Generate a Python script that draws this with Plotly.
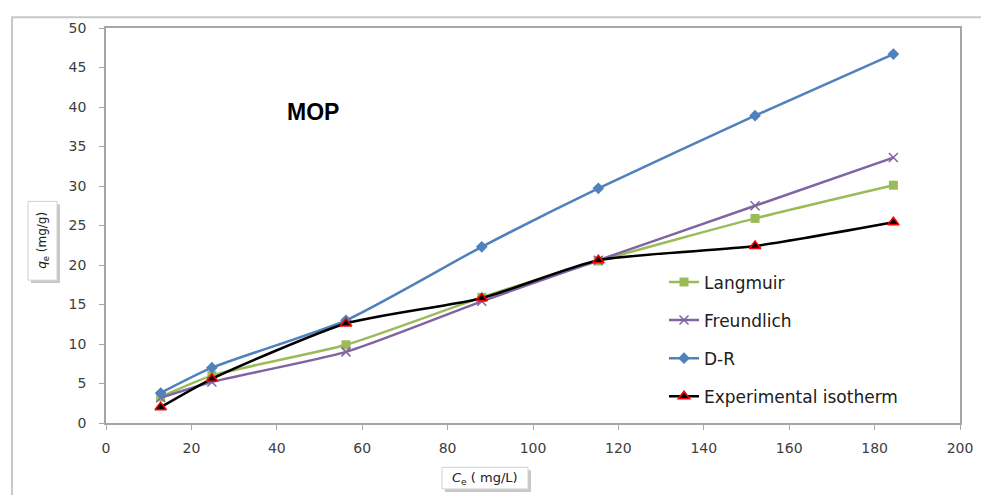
import plotly.graph_objects as go

ce = [12.8, 24.8, 56.2, 88.0, 115.3, 152.0, 184.4]
langmuir = [3.3, 6.0, 9.9, 15.9, 20.5, 25.9, 30.1]
freundlich = [3.2, 5.2, 9.0, 15.4, 20.6, 27.5, 33.6]
dr = [3.8, 7.0, 13.0, 22.3, 29.7, 38.9, 46.7]
experimental = [2.0, 5.6, 12.6, 15.8, 20.6, 22.4, 25.4]

OFF = 8  # page body margin
W, H = 989, 495
L, T = 106 - OFF, 22 - OFF
R = OFF + W - 960
B = OFF + H - 423
pw, ph = W - L - R, H - T - B

def px(x):
    return (x - OFF - L) / pw

def py(y):
    return (H - B - (y - OFF)) / ph

fig = go.Figure()
common = dict(mode="lines+markers", line_shape="spline")
fig.add_trace(go.Scatter(x=ce, y=langmuir, name="Langmuir", legendgroup="a",
                         line=dict(color="#9BBB59", width=2.5, smoothing=0.6),
                         marker=dict(symbol="square", size=9, color="#9BBB59"), **common))
fig.add_trace(go.Scatter(x=ce, y=freundlich, name="Freundlich", legendgroup="b",
                         line=dict(color="#8064A2", width=2.5, smoothing=0.6),
                         marker=dict(symbol="x-thin", size=9, color="#8064A2",
                                     line=dict(color="#8064A2", width=1.5)), **common))
fig.add_trace(go.Scatter(x=ce, y=dr, name="D-R", legendgroup="c",
                         line=dict(color="#4F81BD", width=2.5, smoothing=0.6),
                         marker=dict(symbol="diamond", size=9, color="#4F81BD"), **common))
fig.add_trace(go.Scatter(x=ce, y=experimental, name="Experimental isotherm", legendgroup="d",
                         line=dict(color="#000000", width=2.5, smoothing=0.6),
                         marker=dict(symbol="triangle-up", size=10, color="#000000",
                                     line=dict(color="#FF0000", width=1.5)), **common))

axis_font = dict(family="DejaVu Sans", size=14, color="#404040")
fig.update_layout(
    width=W, height=H,
    margin=dict(l=L, r=R, t=T, b=B),
    paper_bgcolor="white", plot_bgcolor="white",
    showlegend=True,
    legend=dict(x=px(664), y=py(262), xanchor="left", yanchor="top",
                font=dict(family="DejaVu Sans", size=17, color="#202020"),
                bgcolor="rgba(0,0,0,0)", tracegroupgap=13, itemwidth=30,
                traceorder="grouped"),
    xaxis=dict(range=[0, 200], dtick=20, showgrid=False, zeroline=False,
               showline=True, linecolor="#A6A6A6", linewidth=1.5, mirror=True,
               ticks="outside", ticklen=5, tickcolor="#A6A6A6", tickfont=axis_font,
               ticklabelstandoff=6),
    yaxis=dict(range=[0, 50], dtick=5, showgrid=False, zeroline=False,
               showline=True, linecolor="#A6A6A6", linewidth=1.5, mirror=True,
               ticks="outside", ticklen=5, tickcolor="#A6A6A6", tickfont=axis_font,
               ticklabelstandoff=10),
)

# Outer chart border
fig.add_shape(type="rect", xref="paper", yref="paper",
              x0=px(12), x1=px(983), y0=py(505), y1=py(11),
              line=dict(color="#C8C8C8", width=2), fillcolor="rgba(0,0,0,0)", layer="below")

fig.add_annotation(x=px(313), y=py(107), xref="paper", yref="paper",
                   xanchor="center", yanchor="middle",
                   text="<b>MOP</b>", showarrow=False,
                   font=dict(family="Liberation Sans, Arial", size=23, color="#000000"))

# Axis title boxes: shadow shapes + white boxes
fig.add_shape(type="rect", xref="paper", yref="paper",
              x0=px(31), x1=px(60), y0=py(281), y1=py(201),
              line=dict(width=0), fillcolor="#C8C8C8", layer="above")
fig.add_shape(type="rect", xref="paper", yref="paper",
              x0=px(28), x1=px(57), y0=py(278), y1=py(198),
              line=dict(color="#D0D0D0", width=1), fillcolor="white", layer="above")
fig.add_shape(type="rect", xref="paper", yref="paper",
              x0=px(445), x1=px(531), y0=py(493), y1=py(471),
              line=dict(width=0), fillcolor="#C8C8C8", layer="above")
fig.add_shape(type="rect", xref="paper", yref="paper",
              x0=px(442), x1=px(528), y0=py(490), y1=py(468),
              line=dict(color="#D0D0D0", width=1), fillcolor="white", layer="above")

fig.add_annotation(x=px(43), y=py(238), xref="paper", yref="paper",
                   xanchor="center", yanchor="middle",
                   text="<i>q</i><sub>e</sub> (mg/g)", showarrow=False, textangle=-90,
                   font=dict(family="DejaVu Sans", size=12, color="#202020"))
fig.add_annotation(x=px(485), y=py(479), xref="paper", yref="paper",
                   xanchor="center", yanchor="middle",
                   text="<i>C</i><sub>e</sub> ( mg/L)", showarrow=False,
                   font=dict(family="DejaVu Sans", size=13, color="#202020"))

fig.write_html("out.html")
